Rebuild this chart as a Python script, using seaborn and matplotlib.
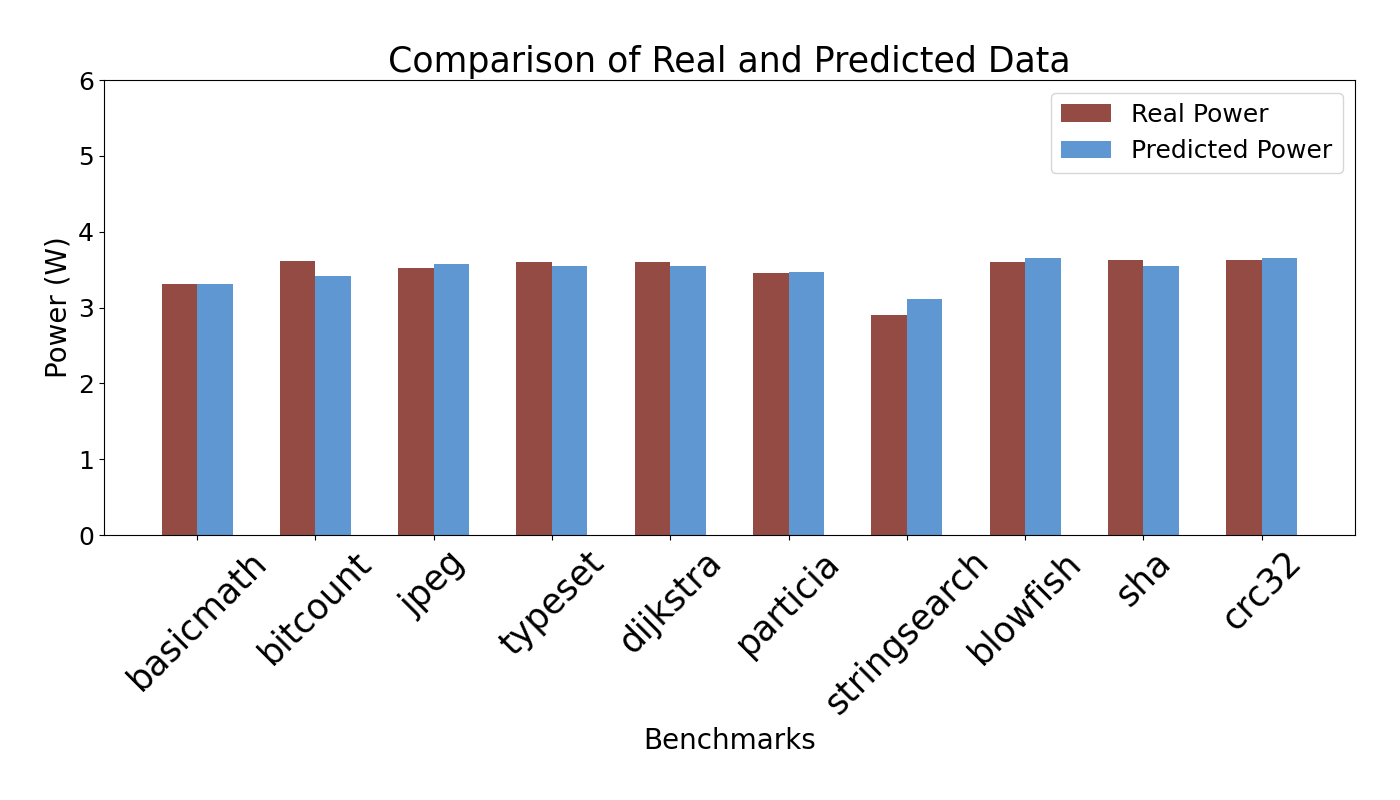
import pandas as pd
import matplotlib
matplotlib.use('Agg')
import matplotlib.pyplot as plt
import seaborn as sns

# Values
benchmarks = ['basicmath', 'bitcount', 'jpeg', 'typeset', 'dijkstra',
              'particia', 'stringsearch', 'blowfish', 'sha', 'crc32']
real_power = [3.31, 3.61, 3.52, 3.60, 3.60, 3.46, 2.90, 3.60, 3.63, 3.63]
predicted_power = [3.31, 3.42, 3.57, 3.55, 3.55, 3.47, 3.11, 3.65, 3.55, 3.65]

# Long-form table for seaborn
df = pd.DataFrame({
    'Benchmark': benchmarks * 2,
    'Power': real_power + predicted_power,
    'Type': ['Real Power'] * len(benchmarks) + ['Predicted Power'] * len(benchmarks),
})

fig, ax = plt.subplots(figsize=(14, 8), dpi=100)
sns.barplot(data=df, x='Benchmark', y='Power', hue='Type',
            palette=['#934B43', '#5E97D2'], saturation=1, width=0.6,
            errorbar=None, ax=ax)

ax.set_xlim(-0.79, 9.79)
ax.set_ylim(0, 6)
ax.set_title('Comparison of Real and Predicted Data', fontsize=25)
ax.set_xlabel('Benchmarks', fontsize=20)
ax.set_ylabel('Power (W)', fontsize=20)
ax.tick_params(axis='y', labelsize=18)
ax.tick_params(axis='x', labelsize=25, rotation=45)
for lbl in ax.get_xticklabels():
    lbl.set_ha('center')
ax.legend(title=None, loc='upper right', fontsize=18)

plt.subplots_adjust(left=0.074, right=0.968, top=0.9, bottom=0.331)
plt.savefig('out.png')
